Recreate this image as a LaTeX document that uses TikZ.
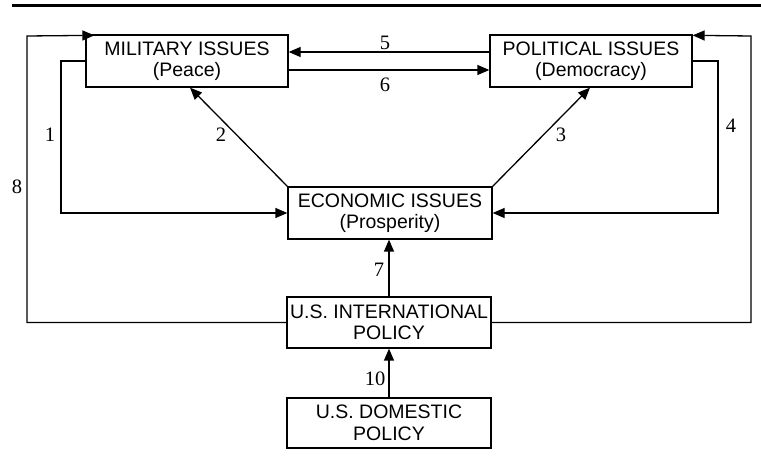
\documentclass[tikz,border=0pt]{standalone}
\usepackage{fontspec}
\setmainfont{Liberation Serif}
\newfontfamily\boxfont{Liberation Sans}
\usetikzlibrary{arrows.meta,calc}
\begin{document}
\begin{tikzpicture}[x=1pt,y=-1pt,
  box/.style={draw, line width=1.3pt, minimum width=202pt, minimum height=52pt, inner sep=0pt, align=center, font=\boxfont\fontsize{19.5}{21.5}\selectfont},
  conn/.style={line width=1.3pt, -{Triangle[length=12pt,width=10pt]}},
  lbl/.style={font=\fontsize{20.5}{22}\selectfont, inner sep=0pt}]
\useasboundingbox (0,0) rectangle (761,462);
\draw[line width=3pt] (12,6) -- (761,6);
\node[box] (mil) at (187,61) {MILITARY ISSUES\\(Peace)};
\node[box] (pol) at (591,61) {POLITICAL ISSUES\\(Democracy)};
\node[box, minimum width=204pt] (eco) at (390,213) {ECONOMIC ISSUES\\(Prosperity)};
\node[box, minimum width=204pt, minimum height=51pt] (intl) at (389,322.5) {U.S. INTERNATIONAL\\POLICY};
\node[box, minimum width=204pt, minimum height=50pt] (dom) at (389,423) {U.S. DOMESTIC\\POLICY};
\coordinate (c1) at (61,213);
\coordinate (c4) at (718,213);
\coordinate (c8l) at (27,36);
\coordinate (c8r) at (751,36);
% 5 and 6
\draw[conn] ($(pol.west)+(0,-9)$) -- ($(mil.east)+(0,-9)$);
\draw[conn] ($(mil.east)+(0,9)$) -- ($(pol.west)+(0,9)$);
% 1 and 4
\draw[conn] (mil.west) -| (c1) -- (eco.west);
\draw[conn] (pol.east) -| (c4) -- (eco.east);
% 8
\draw[conn] (intl.west) -| (c8l) -- ($(mil.north west)+(9,1)$);
\draw[conn] (intl.east) -| (c8r) -- ($(pol.north east)+(0,1)$);
% 2 and 3
\draw[conn] (eco.north west) -- ($(mil.south)+(3,0)$);
\draw[conn] (eco.north east) -- ($(pol.south)+(-1,0)$);
% 7 and 10
\draw[conn] (intl.north) -- (intl.north|-eco.south);
\draw[conn] (dom.north) -- (intl.south);
% labels
\node[lbl] (l5) at (385,43) {5};
\node[lbl] (l6) at (385,85) {6};
\node[lbl] (l1) at (50,135) {1};
\node[lbl] (l2) at (221,135) {2};
\node[lbl] (l3) at (561,135) {3};
\node[lbl] (l4) at (731,126) {4};
\node[lbl] (l7) at (379,270) {7};
\node[lbl] (l8) at (17,187) {8};
\node[lbl] (l10) at (375,379) {10};
\end{tikzpicture}
\end{document}
